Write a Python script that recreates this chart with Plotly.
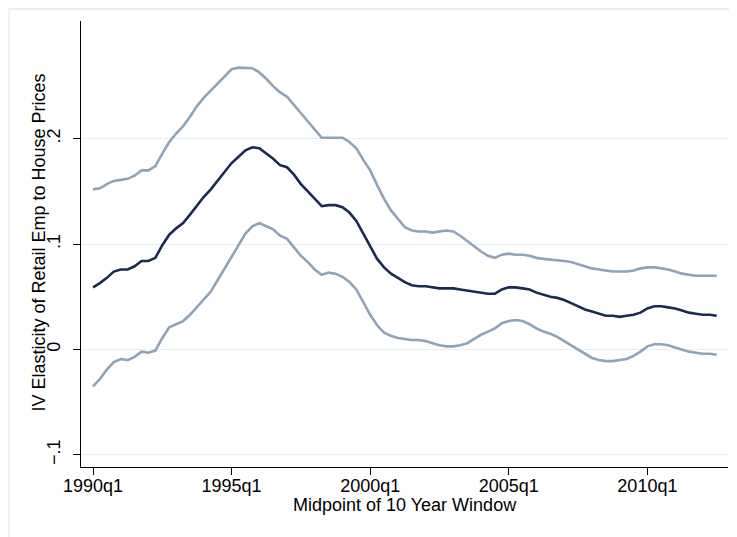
import plotly.graph_objects as go

start_year = 1990
quarters = list(range(91))  # 1990q1 .. 2012q3
x_vals = [start_year + q / 4 for q in quarters]

upper = [.152, .153, .157, .160, .161, .162, .165, .170, .170, .174,
         .186, .197, .205, .212, .221, .231, .239, .246, .253, .260,
         .266, .2675, .2675, .267, .263, .257, .250, .244, .240, .232,
         .225, .217, .209, .201, .201, .201, .201, .197, .191, .180,
         .170, .156, .143, .132, .124, .116, .113, .112, .112, .111,
         .112, .113, .112, .108, .103, .098, .093, .089, .087, .090,
         .091, .090, .090, .089, .087, .086, .0855, .085, .084, .083,
         .081, .079, .077, .076, .075, .074, .074, .074, .075, .077,
         .078, .078, .077, .076, .074, .072, .071, .070, .070, .070, .070]

estimate = [.059, .063, .068, .074, .076, .076, .079, .084, .084, .087,
            .099, .109, .115, .120, .128, .137, .145, .152, .160, .169,
            .177, .183, .189, .192, .191, .186, .181, .175, .173, .166,
            .157, .150, .143, .136, .137, .137, .135, .130, .122, .110,
            .097, .086, .078, .072, .068, .064, .061, .060, .060, .059,
            .058, .058, .058, .057, .056, .055, .054, .053, .053, .057,
            .059, .059, .058, .057, .054, .052, .050, .049, .047, .044,
            .041, .038, .036, .034, .032, .032, .031, .032, .033, .035,
            .039, .041, .041, .040, .039, .037, .035, .034, .033, .033, .032]

lower = [-.035, -.028, -.019, -.012, -.009, -.010, -.007, -.002, -.003, -.001,
         .011, .021, .024, .027, .033, .040, .047, .055, .066, .077,
         .088, .099, .110, .117, .120, .117, .114, .108, .105, .097,
         .089, .083, .076, .071, .073, .072, .069, .064, .057, .045,
         .033, .023, .016, .013, .011, .010, .009, .009, .008, .006,
         .004, .003, .003, .004, .006, .010, .014, .017, .020, .025,
         .027, .028, .027, .024, .020, .017, .015, .012, .008, .004,
         .000, -.004, -.008, -.010, -.011, -.011, -.010, -.009, -.006, -.002,
         .003, .005, .005, .004, .002, -.000, -.002, -.003, -.004, -.004, -.005]

x_tick_vals = [1990, 1995, 2000, 2005, 2010]
x_tick_text = ["1990q1", "1995q1", "2000q1", "2005q1", "2010q1"]
y_tick_vals = [-0.1, 0, 0.1, 0.2]
y_tick_text = ["\u2212.1", "0", ".1", ".2"]
x_title = "Midpoint of 10 Year Window"
y_title = "IV Elasticity of Retail Emp to House Prices"

ci_color = "#91a3b6"
est_color = "#1b2a50"
font_family = "Liberation Sans, Arial, Helvetica, sans-serif"

fig = go.Figure()
fig.add_trace(go.Scatter(x=x_vals, y=upper, mode="lines",
                         line=dict(color=ci_color, width=2.6), showlegend=False))
fig.add_trace(go.Scatter(x=x_vals, y=lower, mode="lines",
                         line=dict(color=ci_color, width=2.6), showlegend=False))
fig.add_trace(go.Scatter(x=x_vals, y=estimate, mode="lines",
                         line=dict(color=est_color, width=2.6), showlegend=False))

# the page adds an 8px body margin, so the figure is sized to fit the window
W, H = 729, 529
L, R, T, B = 73, 9, 13, 70
pw = W - L - R
ph = H - T - B

fig.update_layout(
    width=W, height=H,
    margin=dict(l=L, r=R, t=T, b=B, autoexpand=False),
    paper_bgcolor="white", plot_bgcolor="white",
    font=dict(family=font_family, size=18, color="black"),
    showlegend=False,
)

fig.update_xaxes(
    range=[1989.567, 2012.908],
    tickvals=x_tick_vals, ticktext=x_tick_text,
    showgrid=False, zeroline=False,
    showline=True, linecolor="black", linewidth=1.3,
    ticks="outside", ticklen=7, tickwidth=1.2, tickcolor="black",
    tickfont=dict(size=18), ticklabelstandoff=-5,
)
fig.update_yaxes(
    range=[-0.1115, 0.3118],
    tickvals=y_tick_vals, ticktext=y_tick_text,
    tickangle=-90,
    showgrid=True, gridcolor="#e6eff0", gridwidth=1.3,
    zeroline=False,
    showline=True, linecolor="black", linewidth=1.3,
    ticks="outside", ticklen=7, tickwidth=1.2, tickcolor="black",
    tickfont=dict(size=18), ticklabelstandoff=6,
)

# axis titles placed in pixel-derived paper coordinates
fig.add_annotation(text=x_title, xref="paper", yref="paper",
                   x=0.5, y=-(505 - 8 - (T + ph)) / ph,
                   xanchor="center", yanchor="middle", showarrow=False,
                   font=dict(size=18))
fig.add_annotation(text=y_title, xref="paper", yref="paper",
                   x=(38 - 8 - L) / pw, y=(T + ph - (242.5 - 8)) / ph,
                   xanchor="center", yanchor="middle", textangle=-90, showarrow=False,
                   font=dict(size=18))

# outer graph-region frame (light), hugging the figure edges
fig.add_shape(type="rect", xref="paper", yref="paper",
              x0=(-L + 1) / pw, x1=(pw + R + 5) / pw,
              y0=-(B + 5) / ph, y1=(ph + T - 1) / ph,
              line=dict(color="#e4eced", width=1.3), fillcolor="rgba(0,0,0,0)", layer="below")

fig.write_html("out.html")
